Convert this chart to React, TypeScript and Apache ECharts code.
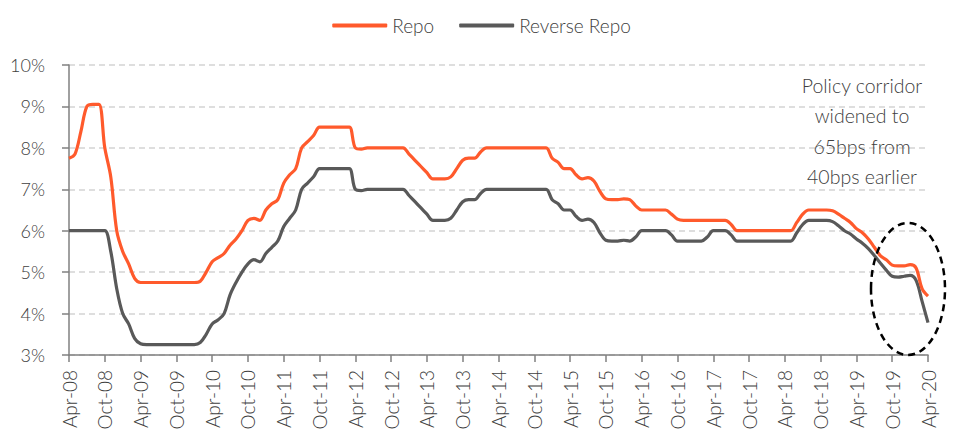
import React, { useEffect, useRef } from "react";
import * as echarts from "echarts";

const monthNames = ["Jan", "Feb", "Mar", "Apr", "May", "Jun", "Jul", "Aug", "Sep", "Oct", "Nov", "Dec"];
// Monthly categories Apr-08 .. Apr-20
const categories: string[] = [];
for (let i = 0; i <= 144; i++) {
  const mi = (3 + i) % 12;
  const yr = 8 + Math.floor((3 + i) / 12);
  categories.push(`${monthNames[mi]}-${String(yr).padStart(2, "0")}`);
}

const repo = [
  7.75, 7.85, 8.4, 9.0, 9.05, 9.05, 8.0, 7.3, 6.0, 5.5, 5.2, 4.85,
  4.75, 4.75, 4.75, 4.75, 4.75, 4.75, 4.75, 4.75, 4.75, 4.75, 4.78, 5.0,
  5.25, 5.35, 5.45, 5.65, 5.8, 6.0, 6.25, 6.3, 6.25, 6.5, 6.65, 6.75,
  7.15, 7.35, 7.5, 8.0, 8.15, 8.3, 8.5, 8.5, 8.5, 8.5, 8.5, 8.5,
  8.0, 7.97, 8.0, 8.0, 8.0, 8.0, 8.0, 8.0, 8.0, 7.85, 7.7, 7.55,
  7.4, 7.25, 7.25, 7.25, 7.3, 7.5, 7.7, 7.75, 7.75, 7.9, 8.0, 8.0,
  8.0, 8.0, 8.0, 8.0, 8.0, 8.0, 8.0, 8.0, 8.0, 7.75, 7.65, 7.5,
  7.5, 7.35, 7.25, 7.28, 7.2, 6.95, 6.77, 6.75, 6.75, 6.77, 6.75, 6.6,
  6.5, 6.5, 6.5, 6.5, 6.5, 6.4, 6.28, 6.25, 6.25, 6.25, 6.25, 6.25,
  6.25, 6.25, 6.25, 6.15, 6.0, 6.0, 6.0, 6.0, 6.0, 6.0, 6.0, 6.0,
  6.0, 6.0, 6.2, 6.4, 6.5, 6.5, 6.5, 6.5, 6.48, 6.4, 6.3, 6.2,
  6.05, 5.95, 5.8, 5.6, 5.4, 5.3, 5.17, 5.15, 5.15, 5.18, 5.1, 4.6,
  4.42,
];

const reverseRepo = [
  6.0, 6.0, 6.0, 6.0, 6.0, 6.0, 6.0, 5.5, 4.6, 4.0, 3.75, 3.4,
  3.27, 3.25, 3.25, 3.25, 3.25, 3.25, 3.25, 3.25, 3.25, 3.25, 3.3, 3.5,
  3.75, 3.85, 4.0, 4.45, 4.75, 5.0, 5.2, 5.3, 5.25, 5.45, 5.6, 5.75,
  6.1, 6.3, 6.5, 7.0, 7.15, 7.3, 7.5, 7.5, 7.5, 7.5, 7.5, 7.5,
  7.0, 6.97, 7.0, 7.0, 7.0, 7.0, 7.0, 7.0, 7.0, 6.85, 6.7, 6.55,
  6.4, 6.25, 6.25, 6.25, 6.3, 6.5, 6.7, 6.75, 6.75, 6.9, 7.0, 7.0,
  7.0, 7.0, 7.0, 7.0, 7.0, 7.0, 7.0, 7.0, 7.0, 6.75, 6.65, 6.5,
  6.5, 6.35, 6.25, 6.28, 6.2, 5.95, 5.77, 5.75, 5.75, 5.77, 5.75, 5.85,
  6.0, 6.0, 6.0, 6.0, 6.0, 5.9, 5.75, 5.75, 5.75, 5.75, 5.75, 5.85,
  6.0, 6.0, 6.0, 5.9, 5.75, 5.75, 5.75, 5.75, 5.75, 5.75, 5.75, 5.75,
  5.75, 5.75, 5.95, 6.15, 6.25, 6.25, 6.25, 6.25, 6.22, 6.12, 6.0, 5.92,
  5.8, 5.7, 5.57, 5.4, 5.22, 5.05, 4.9, 4.88, 4.9, 4.92, 4.8, 4.3,
  3.78,
];

const yTicks = { min: 3, max: 10, interval: 1 };
const annotationText = "Policy corridor\nwidened to\n65bps from\n40bps earlier";

const FONT = "Lato, 'Noto Sans', sans-serif";
const TXT = "#404040";
const FW = 300;

export default function App() {
  const ref = useRef<HTMLDivElement>(null);
  useEffect(() => {
    if (!ref.current) return;
    document.body.style.margin = "0";
    const chart = echarts.init(ref.current, undefined, { renderer: "svg" });
    chart.setOption({
      animation: false,
      textStyle: { fontFamily: FONT },
      legend: {
        top: 11,
        left: "center",
        itemWidth: 55,
        itemHeight: 4,
        itemGap: 25,
        icon: "roundRect",
        textStyle: { fontSize: 19, color: TXT, fontFamily: FONT, fontWeight: FW },
        data: ["Repo", "Reverse Repo"],
      },
      grid: { left: 69, right: 35, top: 65, bottom: 84 },
      xAxis: {
        type: "category",
        data: categories,
        boundaryGap: false,
        axisLine: { lineStyle: { color: "#808080", width: 1.5 } },
        axisTick: { show: true, interval: 5, length: 7, lineStyle: { color: "#808080", width: 1.5 } },
        axisLabel: { interval: 5, rotate: 90, fontSize: 19, color: TXT, margin: 15, fontFamily: FONT, fontWeight: FW },
        splitLine: { show: false },
      },
      yAxis: {
        type: "value",
        min: yTicks.min,
        max: yTicks.max,
        interval: yTicks.interval,
        axisLine: { show: true, lineStyle: { color: "#808080", width: 1.5 } },
        axisTick: { show: true, length: 7, lineStyle: { color: "#808080", width: 1.5 } },
        axisLabel: { formatter: "{value}%", fontSize: 18, color: TXT, margin: 24, fontFamily: FONT, fontWeight: FW },
        splitLine: { show: true, lineStyle: { color: "#d4d4d4", width: 1.5, type: [6, 4] } },
      },
      series: [
        {
          name: "Repo",
          type: "line",
          data: repo,
          smooth: 0.35,
          symbol: "none",
          z: 4,
          lineStyle: { width: 3.2, color: "#ff5a2c" },
          itemStyle: { color: "#ff5a2c" },
        },
        {
          name: "Reverse Repo",
          type: "line",
          data: reverseRepo,
          smooth: 0.35,
          symbol: "none",
          z: 3,
          lineStyle: { width: 3.2, color: "#595959" },
          itemStyle: { color: "#595959" },
        },
      ],
      graphic: [
        {
          type: "text",
          x: 862,
          y: 70,
          z: 10,
          style: {
            text: annotationText,
            textAlign: "center",
            fill: TXT,
            fontSize: 19.5,
            fontWeight: FW,
            lineHeight: 30.5,
            fontFamily: FONT,
          },
        },
        {
          type: "ellipse",
          z: 10,
          shape: { cx: 908, cy: 289, rx: 37, ry: 66 },
          style: { fill: "none", stroke: "#000", lineWidth: 2.5, lineDash: [7, 5] },
        },
      ],
    });
    return () => chart.dispose();
  }, []);
  return <div ref={ref} style={{ width: 963, height: 439 }} />;
}
